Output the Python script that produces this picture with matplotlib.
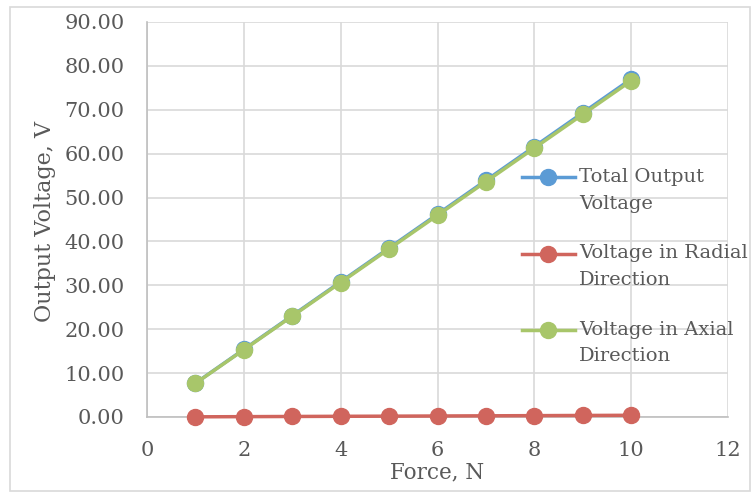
import matplotlib
matplotlib.use("Agg")
import matplotlib.pyplot as plt
from matplotlib.patches import Rectangle
from matplotlib.legend_handler import HandlerLine2D

force = [1, 2, 3, 4, 5, 6, 7, 8, 9, 10]
total_v = [7.7, 15.4, 23.1, 30.8, 38.5, 46.2, 53.9, 61.6, 69.3, 77.0]
radial_v = [0.04, 0.08, 0.12, 0.16, 0.19, 0.23, 0.27, 0.31, 0.35, 0.39]
axial_v = [7.66, 15.32, 22.98, 30.64, 38.30, 45.96, 53.62, 61.28, 68.94, 76.60]
series_names = ["Total Output\nVoltage", "Voltage in Radial\nDirection", "Voltage in Axial\nDirection"]
colors = ["#5B9BD5", "#D0655D", "#A8C66A"]

plt.rcParams['font.family'] = ['DejaVu Serif']
fig = plt.figure(figsize=(7.56, 4.92), dpi=100)
W, H = 756, 492
ax = fig.add_axes([147 / W, 1 - 417 / H, (728 - 147) / W, (417 - 22) / H])
AW, AH = 728 - 147, 417 - 22

# outer chart border
fig.patches.append(Rectangle((10 / W, 1 / H), 740 / W, 484 / H, transform=fig.transFigure,
                             fill=False, edgecolor="#D9D9D9", linewidth=1.2))

for y, name, c in zip([total_v, radial_v, axial_v], series_names, colors):
    ax.plot(force, y, color=c, linewidth=2.5, marker="o", markersize=11.5, label=name,
            clip_on=False, zorder=3)

ax.set_xlim(0, 12)
ax.set_ylim(0, 90)
ax.set_xticks(range(0, 13, 2))
ax.set_yticks(range(0, 91, 10))
ax.set_yticklabels([f"{v:.2f}" for v in range(0, 91, 10)])
ax.grid(True, color="#D9D9D9", linewidth=1.2)
ax.set_axisbelow(True)
for s in ["top", "right"]:
    ax.spines[s].set_visible(False)
for s in ["left", "bottom"]:
    ax.spines[s].set_color("#BFBFBF")
    ax.spines[s].set_linewidth(1.2)
ax.tick_params(axis="both", length=0, labelsize=15, colors="#595959")
ax.tick_params(axis="y", pad=16)
ax.tick_params(axis="x", pad=17)
ax.set_xlabel("Force, N", fontsize=15.5, color="#595959")
ax.set_ylabel("Output Voltage, V", fontsize=16, color="#595959")
ax.xaxis.set_label_coords((437 - 147) / AW, -(472 - 417) / AH)
ax.yaxis.set_label_coords((45 - 147) / AW, (417 - 221) / AH)
ax.xaxis.label.set_verticalalignment("center")
ax.yaxis.label.set_verticalalignment("center")


class TopHandler(HandlerLine2D):
    def create_artists(self, legend, orig_handle, xdescent, ydescent, width, height,
                       fontsize, trans):
        return super().create_artists(legend, orig_handle, xdescent, ydescent - 19,
                                      width, height, fontsize, trans)


leg = ax.legend(loc="upper left", bbox_to_anchor=(0.645, 0.63), frameon=False,
                fontsize=14, labelcolor="#595959", handlelength=2.75, handletextpad=0.2,
                labelspacing=1.62, borderaxespad=0, borderpad=0,
                handler_map={matplotlib.lines.Line2D: TopHandler()})
for t in leg.get_texts():
    t.set_linespacing(1.62)

fig.savefig("out.png", dpi=100)
